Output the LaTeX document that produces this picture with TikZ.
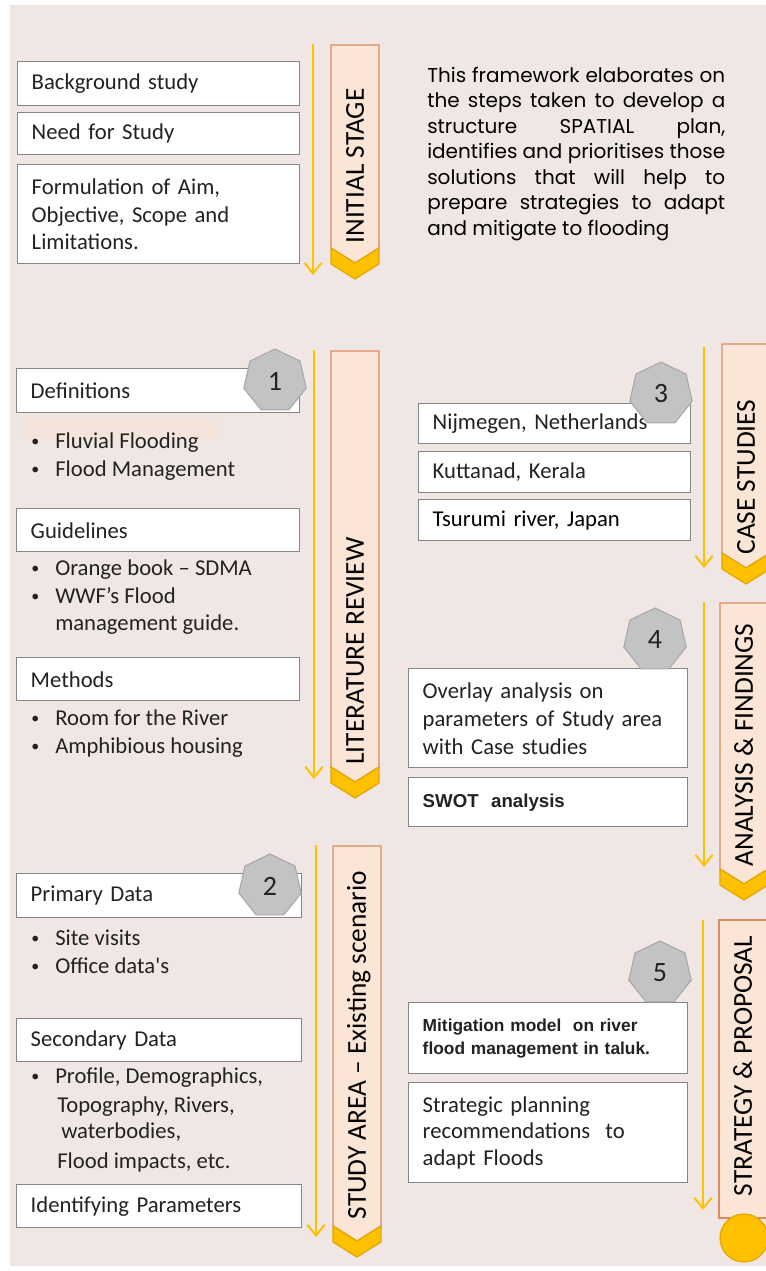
\documentclass[tikz,border=0pt]{standalone}
\usepackage{fontspec}
\setmainfont{Carlito}
\newfontfamily\descfont{Poppins}
\newfontfamily\arialfont{Liberation Sans}
\usetikzlibrary{shapes.geometric,arrows.meta}

\definecolor{bgcol}{HTML}{F0E7E4}
\definecolor{faintpeach}{HTML}{F5E4DB}
\definecolor{peach}{HTML}{FBE5D6}
\definecolor{bannerline}{HTML}{D98C5F}
\definecolor{gold}{HTML}{FFC000}
\definecolor{golddark}{HTML}{E0A800}
\definecolor{boxline}{HTML}{858585}
\definecolor{ink}{HTML}{222222}
\definecolor{hepfill}{HTML}{C3C3C3}
\definecolor{hepline}{HTML}{A8A8A8}

\tikzset{
  box/.style={draw=boxline, line width=1.1pt, fill=white, anchor=north west,
    align=left, inner xsep=10.5pt, inner ysep=0pt, text=ink,
    font=\fontsize{17}{20.6}\selectfont},
  item/.style={anchor=base west, inner sep=0pt, text=ink,
    font=\fontsize{17}{20.6}\selectfont},
  hept/.style={regular polygon, regular polygon sides=7, minimum size=48pt,
    inner sep=0pt, fill=hepfill, draw=hepline, line width=0.8pt, text=ink,
    font=\fontsize{21}{21}\selectfont},
  flow/.style={draw=gold, line width=1.5pt,
    -{Straight Barb[length=8pt,width=13pt]}},
  bannerbody/.style={fill=peach, draw=bannerline, line width=0.9pt},
  chev/.style={fill=gold, draw=golddark, line width=0.9pt, line join=miter},
  bannertext/.style={rotate=90, inner sep=0pt, text=black, text height=13.2pt,
    text depth=0pt, font=\fontsize{20.5}{20.5}\selectfont},
  desc/.style={anchor=base west, inner sep=0pt, text=black,
    font=\descfont\fontsize{15}{19}\selectfont},
  endcap/.style={circle, fill=gold, draw=golddark, line width=0.9pt,
    minimum size=36pt, inner sep=0pt},
}

% box: [options]{name}{x1}{y1}{x2}{y2}{text}, corners in pixel units
\newcommand\fwbox[7][]{%
  \pgfmathsetmacro\fwW{(#5-#3)*0.75-21}%
  \pgfmathsetmacro\fwH{(#6-#4)*0.75}%
  \node[box, text width=\fwW pt, minimum height=\fwH pt, #1] (#2) at (#3,#4) {#7};}

% small list bullet
\newcommand\smallbullet{\makebox[18pt][l]{\raisebox{1.3pt}{\fontsize{12}{12}\selectfont\textbullet}}}

% bullet line: {name}{x}{baseline y}{text}
\newcommand\bul[4]{\node[item] (#1) at (#2,#3) {\smallbullet#4};}

% stage banner with chevron tail: {name}{left x}{top y}{side bottom y}{text centre y}{text}
\newcommand\banner[6]{%
  \pgfmathsetmacro\bxr{#2+48}\pgfmathsetmacro\bxc{#2+24}%
  \pgfmathsetmacro\bya{#4+15}\pgfmathsetmacro\byb{#4+16}\pgfmathsetmacro\byc{#4+31}%
  \path[bannerbody] (#2,#3) -- (\bxr,#3) -- (\bxr,#4) -- (\bxc,\bya) -- (#2,#4) -- cycle;
  \path[chev] (#2,#4) -- (\bxc,\bya) -- (\bxr,#4) -- (\bxr,\byb) -- (\bxc,\byc) -- (#2,\byb) -- cycle;
  \node[bannertext] (#1) at (\bxc,#5) {#6};}

\begin{document}
\begin{tikzpicture}[x=0.75pt, y=-0.75pt]
\useasboundingbox (0,0) rectangle (766,1271);
\fill[white] (0,0) rectangle (766,1271);
\fill[bgcol] (10,5) rectangle (766,1266);

% ---------- flow arrows ----------
\coordinate (a1s) at (313,44);  \coordinate (a1e) at (313,275);
\coordinate (a2s) at (314,350); \coordinate (a2e) at (314,779);
\coordinate (a3s) at (316,845); \coordinate (a3e) at (316,1237);
\coordinate (a4s) at (704,347); \coordinate (a4e) at (704,568);
\coordinate (a5s) at (704,602); \coordinate (a5e) at (704,867);
\coordinate (a6s) at (703,920); \coordinate (a6e) at (703,1210);
\foreach \k in {1,...,6} \draw[flow] (a\k s) -- (a\k e);

% ---------- stage banners ----------
\banner{initial}{331}{45}{248}{166}{INITIAL STAGE}
\banner{litrev}{331}{351}{767}{651}{LITERATURE REVIEW}
\banner{study}{333}{846}{1226}{1045}{STUDY AREA -- Existing scenario}
\banner{cases}{722}{344}{553}{477}{CASE STUDIES}
\banner{analysis}{720}{603}{869}{745}{ANALYSIS \& FINDINGS}
\path[bannerbody] (719,920) rectangle (767,1218);
\node[bannertext] (strategy) at (743,1066) {STRATEGY \& PROPOSAL};
\node[endcap] (endc) at (744,1238) {};

% ---------- initial stage ----------
\fwbox{bg}{17}{61}{299}{105}{Background study}
\fwbox{need}{17}{112}{299}{154}{Need for Study}
\fwbox{aim}{17}{164}{299}{263}{Formulation of Aim,\\Objective, Scope and\\Limitations.}

\node[desc] (d1) at (427,82)    {\makebox[223.5pt][s]{This framework elaborates on}};
\node[desc] (d2) at (427,107.5) {\makebox[223.5pt][s]{the steps taken to develop a}};
\node[desc] (d3) at (427,133)   {\makebox[223.5pt][s]{structure SPATIAL plan,}};
\node[desc] (d4) at (427,158.5) {\makebox[223.5pt][s]{identifies and prioritises those}};
\node[desc] (d5) at (427,184)   {\makebox[223.5pt][s]{solutions that will help to}};
\node[desc] (d6) at (427,209.5) {\makebox[223.5pt][s]{prepare strategies to adapt}};
\node[desc] (d7) at (427,235)   {and mitigate to flooding};

% ---------- literature review ----------
\fwbox{defs}{16}{368}{299}{412}{Definitions}
\fill[faintpeach] (23,418) rectangle (220,440);
\bul{b11}{31}{448}{Fluvial Flooding}
\bul{b12}{31}{476}{Flood Management}
\fwbox{guide}{16}{508}{299}{551}{Guidelines}
\bul{b21}{31}{575}{Orange book – SDMA}
\bul{b22}{31}{603}{WWF’s Flood}
\node[item] (b23) at (55,630) {management guide.};
\fwbox{meth}{16}{657}{299}{700}{Methods}
\bul{b31}{31}{725}{Room for the River}
\bul{b32}{31}{753}{Amphibious housing}
\node[hept] (h1) at (275,381) {1};

% ---------- study area ----------
\fwbox{prim}{16}{873}{301}{917}{Primary Data}
\bul{b41}{31}{945}{Site visits}
\bul{b42}{31}{973}{Office data\textquotesingle s}
\fwbox{sec}{16}{1018}{301}{1061}{Secondary Data}
\bul{b51}{31}{1083}{Profile, Demographics,}
\node[item] (b52) at (57,1112) {Topography, Rivers,};
\node[item] (b53) at (61,1138) {waterbodies,};
\node[item] (b54) at (57,1168) {Flood impacts, etc.};
\fwbox{idp}{16}{1184}{301}{1227}{Identifying Parameters}
\node[hept] (h2) at (270,886) {2};

% ---------- case studies ----------
\fwbox{nij}{418}{403}{690}{443}{Nijmegen, Netherlands}
\fwbox{kut}{418}{451}{690}{492}{Kuttanad, Kerala}
\fwbox[text=black]{tsu}{418}{499}{690}{540}{Tsurumi river, Japan}
\node[hept] (h3) at (661,394) {3};

% ---------- analysis & findings ----------
\fwbox[font=\fontsize{17}{21}\selectfont]{ovl}{408}{668}{687}{767}{Overlay analysis on\\parameters of Study area\\with Case studies}
\fwbox[font=\arialfont\bfseries\fontsize{14}{17}\selectfont]{swot}{408}{777}{687}{826}{SWOT~ analysis}
\node[hept] (h4) at (655,640) {4};

% ---------- strategy & proposal ----------
\fwbox[font=\arialfont\bfseries\fontsize{13}{17.2}\selectfont]{mit}{408}{1002}{687}{1073}{Mitigation model~ on river\\flood management in taluk.}
\fwbox[font=\fontsize{17}{20}\selectfont]{strat}{408}{1082}{687}{1182}{Strategic planning\\recommendations~ to\\adapt Floods}
\node[hept] (h5) at (660,973) {5};
\end{tikzpicture}
\end{document}
